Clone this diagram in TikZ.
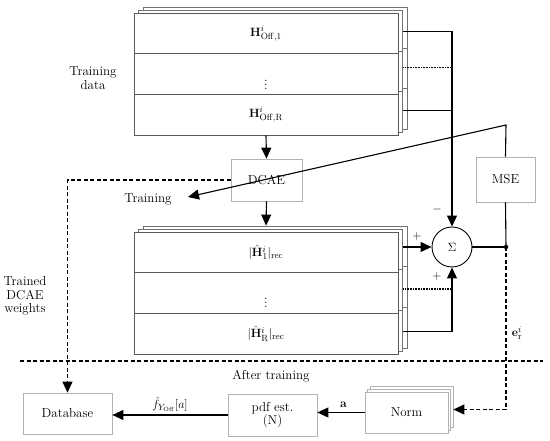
\documentclass[tikz,border=0pt]{standalone}
\usetikzlibrary{arrows.meta}
\begin{document}
\begin{tikzpicture}[x=1pt,y=-1pt,
  font=\fontsize{13}{13.5}\selectfont,
  rowbox/.style={draw=black!65,line width=0.8pt,fill=white,minimum width=264pt,minimum height=40.6pt,inner sep=0pt},
  backbox/.style={draw=black!55,line width=0.7pt,fill=white},
  graybox/.style={draw=black!30,line width=0.7pt,fill=white,inner sep=0pt,align=center},
  conn/.style={line width=1.1pt},
  tip/.style={-{Triangle[length=11pt,width=10pt]}},
  dsh/.style={line width=1.1pt,dash pattern=on 4pt off 2.5pt},
  dotline/.style={line width=1.1pt,dash pattern=on 0.8pt off 0.8pt},
  lbl/.style={inner sep=1pt,align=center}]
\useasboundingbox (0,0) rectangle (550,441);
% top stack back layers
\foreach \dx/\dy in {9/-6,4.5/-3} {
  \draw[backbox] (134+\dx,13.3+\dy) rectangle (398+\dx,135+\dy);
  \draw[backbox] (134+\dx,53.9+\dy) -- (398+\dx,53.9+\dy);
  \draw[backbox] (134+\dx,94.5+\dy) -- (398+\dx,94.5+\dy);
}
\node[rowbox] (h1) at (266,33.6) {$\mathbf{H}^{i}_{\mathrm{Off},1}$};
\node[rowbox] (hm) at (266,74.2) {\raisebox{-10pt}[10pt][0pt]{$\vdots$}};
\node[rowbox] (hR) at (266,114.8) {$\mathbf{H}^{i}_{\mathrm{Off},\mathrm{R}}$};
% bottom stack back layers
\foreach \dx/\dy in {9/-6,4.5/-3} {
  \draw[backbox] (134+\dx,232+\dy) rectangle (398+\dx,354+\dy);
  \draw[backbox] (134+\dx,272.7+\dy) -- (398+\dx,272.7+\dy);
  \draw[backbox] (134+\dx,313.3+\dy) -- (398+\dx,313.3+\dy);
}
\node[rowbox] (r1) at (266,252.3) {$|\hat{\mathbf{H}}^{i}_{1}|_{\mathrm{rec}}$};
\node[rowbox] (rm) at (266,293) {\raisebox{-10pt}[10pt][0pt]{$\vdots$}};
\node[rowbox] (rR) at (266,333.7) {$|\hat{\mathbf{H}}^{i}_{\mathrm{R}}|_{\mathrm{rec}}$};
% sum and MSE
\node[circle,draw,line width=0.9pt,minimum size=40pt,inner sep=0pt] (sum) at (452,247) {$\Sigma$};
\node[graybox,minimum width=59pt,minimum height=45pt] (mse) at (505.5,179.5) {MSE};
\node[graybox,minimum width=71pt,minimum height=42pt] (dcae) at (266.5,180) {DCAE};
\node[circle,fill,inner sep=0pt,minimum size=4.5pt] (jn) at (506,247) {};
% bottom row boxes
\node[graybox,minimum width=89pt,minimum height=41pt] (db) at (67.5,413.5) {Database};
\node[graybox,minimum width=89pt,minimum height=42pt] (pdf) at (272.5,415) {pdf est.\\(N)};
\foreach \dx/\dy in {5/-6,2.5/-3} {
  \draw[graybox] (365+\dx,392+\dy) rectangle (448+\dx,433+\dy);
}
\node[graybox,minimum width=83pt,minimum height=41pt] (norm) at (406.5,412.5) {Norm};
% labels
\node[lbl] (ltd) at (93,78) {Training\\data};
\node[lbl] (ltw) at (25,296) {Trained\\DCAE\\weights};
\node[lbl] (ltr) at (148,199) {Training};
\node[lbl] (lat) at (271,376) {After training};
\node[lbl] (ler) at (517,333) {$\mathbf{e}^{i}_{\mathrm{r}}$};
\node[lbl] (lp1) at (417,237) {$+$};
\node[lbl] (lp2) at (437,277) {$+$};
\node[lbl] (lmi) at (437,210) {$-$};
% coordinates
\coordinate (tA) at ([shift={(5,-2.5)}]h1.east);
\coordinate (tB) at ([shift={(5,-7)}]hm.east);
\coordinate (tC) at ([shift={(5,-4.5)}]hR.east);
\coordinate (bB) at ([shift={(5,-4)}]rm.east);
\coordinate (bC) at ([shift={(5,-2)}]rR.east);
\coordinate (r1top) at ([shift={(0,-6)}]r1.north);
\coordinate (bend) at (506,125);
\coordinate (trtip) at (188,197);
\coordinate (nE) at ([shift={(5,-3)}]norm.east);
\coordinate (sepL) at (20,361);
\coordinate (sepR) at (543,361);
% connectors
\draw[conn,tip] (tA) -| (sum.north);
\draw[dotline] (tB) -- (tB -| sum.north);
\draw[conn] (tC) -- (tC -| sum.north);
\draw[conn,tip] (hR.south) -- (dcae.north);
\draw[conn,tip] (dcae.south) -- (r1top);
\draw[conn,tip] ([xshift=5pt]r1.east |- sum.west) -- (sum.west);
\draw[dotline] (bB) -- (bB -| sum.south);
\draw[conn,tip] (bC) -| (sum.south);
\draw[conn] (sum.east) -- (jn.center);
\draw[conn] (mse.south) -- (jn.center);
\draw[conn,tip] (mse.north) -- (bend) -- (trtip);
\draw[dsh] (sepL) -- (sepR);
\draw[dsh,tip] (jn.center) |- (nE);
\draw[dsh,tip] (dcae.west) -| (db.north);
\draw[conn,tip] (norm.west) -- node[lbl,above=3pt,pos=0.45] {$\mathbf{a}$} (norm.west -| pdf.east);
\draw[conn,tip] (pdf.west) -- node[lbl,above=2pt] {$\hat{f}_{Y_{\mathrm{Off}}}[a]$} (pdf.west -| db.east);
\end{tikzpicture}
\end{document}
